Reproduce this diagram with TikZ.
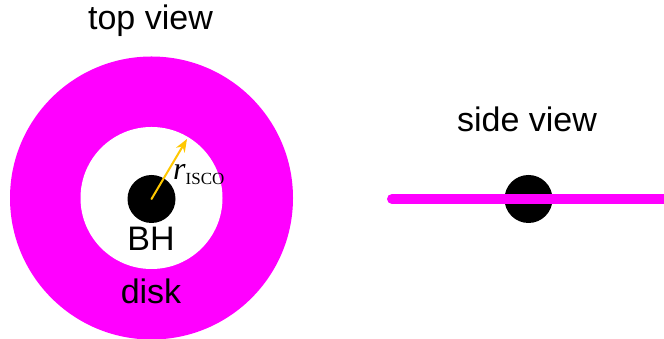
\documentclass[tikz,border=0pt]{standalone}
\usepackage{fontspec}
\setmainfont{Liberation Sans}
\newfontfamily\labelserif{Liberation Serif}
\usetikzlibrary{arrows.meta}
\definecolor{diskmag}{RGB}{255,0,255}
\definecolor{iscogold}{RGB}{255,200,0}
\tikzset{
	bhole/.style={circle, fill=black, inner sep=0pt, minimum size=48pt},
	lbl/.style={anchor=base, font=\fontsize{34}{40}\selectfont},
}
\begin{document}
\begin{tikzpicture}[x=1pt, y=1pt, line join=round, line cap=round]
	\useasboundingbox (0,0) rectangle (664,339);
	% top view: disk with the hole out to the ISCO
	\fill[diskmag] (151.5,141) circle (141.5);
	\fill[white] (151.5,141) circle (71);
	\node[bhole] (bh) at (151.5,140) {};
	\coordinate (isco) at (187,200);
	\draw[iscogold, line width=2pt, -{Stealth[length=13pt,width=10pt]}] (bh.center) -- (isco);
	\node[anchor=base west, inner sep=0pt] (risco) at (173,159)
		{\labelserif\fontsize{32}{36}\selectfont\textit{r}\raisebox{-5pt}{\fontsize{17}{20}\selectfont ISCO}};
	\node[lbl] (top) at (150.5,309) {top view};
	\node[lbl] (bhlabel) at (151,88) {BH};
	\node[lbl] (disk) at (151,35) {disk};
	% side view: disk seen edge on
	\coordinate (edge) at (392,140);
	\coordinate (far) at (670,140);
	\node[bhole] (bhside) at (528.5,140) {};
	\draw[diskmag, line width=10pt] (edge) -- (far);
	\node[lbl] (side) at (527,207) {side view};
\end{tikzpicture}
\end{document}
